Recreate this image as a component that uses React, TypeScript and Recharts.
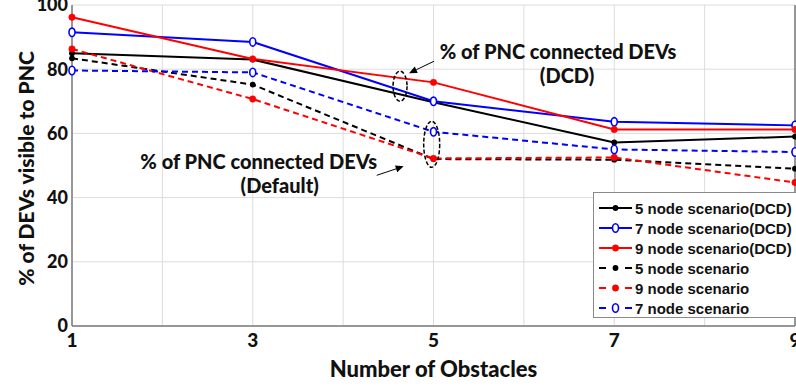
import { LineChart, Line, XAxis, YAxis, CartesianGrid, Legend, ReferenceDot } from "recharts"

const obstacles = [1, 3, 5, 7, 9]
const dcd5 = [85, 83, 69.7, 57.2, 59]
const dcd7 = [91.5, 88.5, 70, 63.6, 62.5]
const dcd9 = [96.2, 83.2, 75.9, 61.2, 61.2]
const def5 = [83.4, 75.2, 52, 51.8, 49]
const def9 = [86.3, 70.7, 52.2, 52.5, 44.7]
const def7 = [79.6, 79, 60.5, 55, 54.2]

const xTicks = [1, 2, 3, 4, 5, 6, 7, 8, 9]
const yTicks = [0, 20, 40, 60, 80, 100]

const noteDcd = ["% of PNC connected DEVs", "(DCD)"]
const noteDefault = ["% of PNC connected DEVs", "(Default)"]

const series = [
  { key: "dcd5", name: "5 node scenario(DCD)", color: "#000000", dashed: false, marker: "dot" },
  { key: "dcd7", name: "7 node scenario(DCD)", color: "#0000ff", dashed: false, marker: "diamond" },
  { key: "dcd9", name: "9 node scenario(DCD)", color: "#ff0000", dashed: false, marker: "star" },
  { key: "def5", name: "5 node scenario", color: "#000000", dashed: true, marker: "dot" },
  { key: "def9", name: "9 node scenario", color: "#ff0000", dashed: true, marker: "star" },
  { key: "def7", name: "7 node scenario", color: "#0000ff", dashed: true, marker: "diamond" },
]

const chartData = obstacles.map((x, i) => ({
  x,
  dcd5: dcd5[i],
  dcd7: dcd7[i],
  dcd9: dcd9[i],
  def5: def5[i],
  def9: def9[i],
  def7: def7[i],
}))

const labelFont = "Lato, 'Open Sans', sans-serif"

function Marker({ kind, color, cx, cy }: { kind: string; color: string; cx: number; cy: number }) {
  if (kind === "diamond") {
    return <ellipse cx={cx} cy={cy} rx={3} ry={4.2} fill="#ffffff" stroke={color} strokeWidth={1.6} />
  }
  if (kind === "star") {
    return <circle cx={cx} cy={cy} r={3.2} fill={color} stroke={color} strokeWidth={0.6} />
  }
  return <circle cx={cx} cy={cy} r={2.9} fill={color} />
}

function makeDot(kind: string, color: string) {
  return (props: any) => {
    const { cx, cy, index } = props
    if (cx == null || cy == null) return <g key={`e-${index}`} />
    return (
      <g key={`${kind}-${color}-${index}`}>
        <Marker kind={kind} color={color} cx={cx} cy={cy} />
      </g>
    )
  }
}

function Arrow({ x1, y1, x2, y2 }: { x1: number; y1: number; x2: number; y2: number }) {
  const a = Math.atan2(y2 - y1, x2 - x1)
  const len = 8
  const w = 3.5
  const bx = x2 - len * Math.cos(a)
  const by = y2 - len * Math.sin(a)
  const p1 = `${x2},${y2}`
  const p2 = `${bx + w * Math.sin(a)},${by - w * Math.cos(a)}`
  const p3 = `${bx - w * Math.sin(a)},${by + w * Math.cos(a)}`
  return (
    <g>
      <line x1={x1} y1={y1} x2={bx} y2={by} stroke="#000" strokeWidth={1} />
      <polygon points={`${p1} ${p2} ${p3}`} fill="#000" />
    </g>
  )
}

function LegendBox() {
  return (
    <div
      style={{
        border: "1px solid #8a8a8a",
        background: "#ffffff",
        width: 210,
        height: 126,
        boxSizing: "border-box",
        padding: "5px 0 0 4px",
      }}
    >
      {series.map((s) => (
        <div key={s.key} style={{ display: "flex", alignItems: "center", height: 20 }}>
          <svg width={36} height={20} style={{ flex: "none" }}>
            {s.dashed ? (
              <g>
                <line x1={1} y1={10} x2={8} y2={10} stroke={s.color} strokeWidth={2} />
                <line x1={27} y1={10} x2={34} y2={10} stroke={s.color} strokeWidth={2} />
              </g>
            ) : (
              <line x1={1} y1={10} x2={34} y2={10} stroke={s.color} strokeWidth={2} />
            )}
            <Marker kind={s.marker} color={s.color} cx={17.5} cy={10} />
          </svg>
          <span
            style={{
              font: "bold 15px 'Liberation Sans', Arial, sans-serif",
              color: "#111",
              whiteSpace: "nowrap",
              marginLeft: 1,
            }}
          >
            {s.name}
          </span>
        </div>
      ))}
    </div>
  )
}

const noteText = {
  fontFamily: labelFont,
  fontWeight: 900,
  fontSize: 20,
  fill: "#111",
}

export default function App() {
  return (
    <div style={{ position: "absolute", left: 0, top: 0, width: 796, height: 387, overflow: "hidden", background: "#fff" }}>
      <LineChart width={796} height={387} data={chartData} margin={{ top: 5, right: 0, bottom: 0, left: 0 }}>
        <CartesianGrid stroke="#dcdcdc" strokeWidth={1} verticalValues={xTicks} horizontalValues={yTicks} />
        <XAxis
          dataKey="x"
          type="number"
          domain={[1, 9]}
          ticks={xTicks}
          interval={0}
          height={61}
          tickSize={0}
          tickMargin={8}
          tickFormatter={(v: number) => (v % 2 === 1 ? String(v) : "")}
          axisLine={{ stroke: "#7a7a7a", strokeWidth: 1.5 }}
          tick={{ fill: "#111", fontFamily: labelFont, fontWeight: 900, fontSize: 19 }}
          label={{
            value: "Number of Obstacles",
            position: "insideBottom",
            offset: 10,
            style: { fill: "#111", fontFamily: labelFont, fontWeight: 900, fontSize: 22 },
          }}
        />
        <XAxis xAxisId="top" orientation="top" type="number" domain={[1, 9]} height={0} tick={false} tickLine={false} axisLine={{ stroke: "#7a7a7a", strokeWidth: 1.5 }} />
        <YAxis
          domain={[0, 100]}
          ticks={yTicks}
          interval={0}
          width={72}
          tickSize={0}
          tickMargin={4}
          axisLine={{ stroke: "#7a7a7a", strokeWidth: 1.5 }}
          tick={{ fill: "#111", fontFamily: labelFont, fontWeight: 900, fontSize: 18 }}
          label={(p: any) => {
            const vb = p.viewBox || { x: 0, y: 5, width: 72, height: 320 }
            const cy = vb.y + vb.height / 2 + 3
            return (
              <text
                x={25}
                y={cy}
                transform={`rotate(-90, 25, ${cy})`}
                textAnchor="middle"
                dominantBaseline="central"
                style={{ fill: "#111", fontFamily: labelFont, fontWeight: 900, fontSize: 21 }}
              >
                % of DEVs visible to PNC
              </text>
            )
          }}
        />
        <YAxis yAxisId="right" orientation="right" domain={[0, 100]} width={1} tick={false} tickLine={false} axisLine={{ stroke: "#7a7a7a", strokeWidth: 1.5 }} />
        {series.map((s) => (
          <Line
            key={s.key}
            dataKey={s.key}
            name={s.name}
            stroke={s.color}
            strokeWidth={2}
            strokeDasharray={s.dashed ? "6 4" : undefined}
            dot={makeDot(s.marker, s.color)}
            activeDot={false}
            isAnimationActive={false}
          />
        ))}
        <ReferenceDot
          x={4.63}
          y={74.7}
          r={0}
          ifOverflow="visible"
          shape={(p: any) => (
            <g>
              <ellipse cx={p.cx} cy={p.cy} rx={7} ry={15} fill="none" stroke="#000" strokeWidth={1.5} strokeDasharray="4 2" />
              <Arrow x1={p.cx + 34} y1={p.cy - 25} x2={p.cx + 9} y2={p.cy - 13} />
              <text x={p.cx + 158} y={p.cy - 27} textAnchor="middle" style={noteText}>{noteDcd[0]}</text>
              <text x={p.cx + 167} y={p.cy - 3} textAnchor="middle" style={noteText}>{noteDcd[1]}</text>
            </g>
          )}
        />
        <ReferenceDot
          x={4.98}
          y={56.6}
          r={0}
          ifOverflow="visible"
          shape={(p: any) => (
            <g>
              <ellipse cx={p.cx} cy={p.cy} rx={8} ry={23} fill="none" stroke="#000" strokeWidth={1.5} strokeDasharray="4 2" />
              <Arrow x1={p.cx - 55} y1={p.cy + 31} x2={p.cx - 28} y2={p.cy + 22} />
              <text x={p.cx - 173} y={p.cy + 25} textAnchor="middle" style={noteText}>{noteDefault[0]}</text>
              <text x={p.cx - 152} y={p.cy + 49} textAnchor="middle" style={noteText}>{noteDefault[1]}</text>
            </g>
          )}
        />
        <Legend
          layout="vertical"
          align="center"
          verticalAlign="middle"
          content={() => <LegendBox />}
          wrapperStyle={{ position: "absolute", left: 593, top: 192, width: 210, margin: 0 }}
        />
      </LineChart>
    </div>
  )
}
